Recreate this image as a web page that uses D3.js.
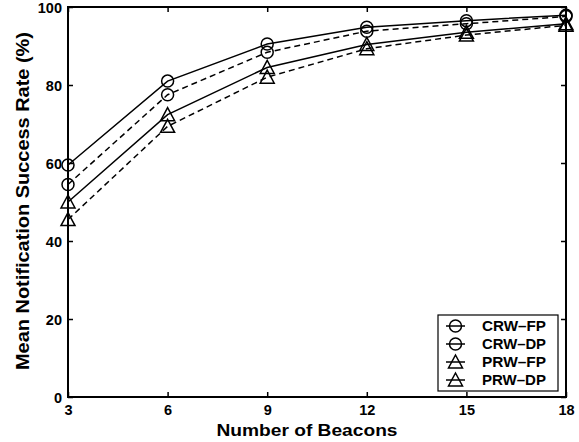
<!DOCTYPE html>
<html><head><meta charset="utf-8">
<script src="https://cdn.jsdelivr.net/npm/d3@7"></script>
<style>body{margin:0;background:#fff}text{font-family:"Liberation Sans",Arial,sans-serif;font-weight:bold}</style>
</head><body><svg id="c" width="579" height="442"></svg>
<script>
const beacons = [3, 6, 9, 12, 15, 18];
const crwFP = [59.5, 81.0, 90.5, 94.8, 96.5, 97.9];
const crwDP = [54.5, 77.5, 88.4, 93.8, 95.7, 97.6];
const prwFP = [50.0, 72.4, 84.5, 90.4, 93.5, 95.7];
const prwDP = [45.5, 69.4, 82.0, 89.3, 92.8, 95.3];
const yTicks = [0, 20, 40, 60, 80, 100];
const seriesNames = ["CRW\u2013FP", "CRW\u2013DP", "PRW\u2013FP", "PRW\u2013DP"];

const series = [
  {name: seriesNames[0], values: crwFP, marker: "circle", dash: null},
  {name: seriesNames[1], values: crwDP, marker: "circle", dash: "6,4"},
  {name: seriesNames[2], values: prwFP, marker: "triangle", dash: null},
  {name: seriesNames[3], values: prwDP, marker: "triangle", dash: "6,4"}
];

const svg = d3.select("#c");
const L = 68, R = 566, T = 7, B = 397;
const x = d3.scaleLinear().domain([3, 18]).range([L, R]);
const y = d3.scaleLinear().domain([0, 100]).range([B, T]);

function drawMarker(g, type, cx, cy) {
  if (type === "circle") {
    g.append("circle").attr("cx", cx).attr("cy", cy).attr("r", 6)
      .attr("fill", "none").attr("stroke", "#000").attr("stroke-width", 1.5);
  } else {
    g.append("path").attr("d", `M${cx},${cy-7}L${cx+7},${cy+6}L${cx-7},${cy+6}Z`)
      .attr("fill", "none").attr("stroke", "#000").attr("stroke-width", 1.5);
  }
}

// axes box
const gx = svg.append("g").attr("transform", `translate(0,${B})`)
  .call(d3.axisBottom(x).tickValues(beacons).tickSize(-5).tickPadding(8));
const gy = svg.append("g").attr("transform", `translate(${L},0)`)
  .call(d3.axisLeft(y).tickValues(yTicks).tickSize(-5).tickPadding(6));
const gxt = svg.append("g").attr("transform", `translate(0,${T})`)
  .call(d3.axisTop(x).tickValues(beacons).tickSize(-5).tickFormat(""));
const gyr = svg.append("g").attr("transform", `translate(${R},0)`)
  .call(d3.axisRight(y).tickValues(yTicks).tickSize(-5).tickFormat(""));
[gx, gy, gxt, gyr].forEach(g => {
  g.select(".domain").remove();
  g.attr("font-size", 14.5);
  g.selectAll("line").attr("stroke", "#000").attr("stroke-width", 1.5);
  g.selectAll("text").attr("font-size", 14.5).attr("fill", "#000")
   .style("font-family", '"Liberation Sans",Arial,sans-serif').style("font-weight", "bold");
});
gy.selectAll("text").attr("dy", "0.36em");
svg.append("rect").attr("x", L).attr("y", T).attr("width", R - L).attr("height", B - T)
  .attr("fill", "none").attr("stroke", "#000").attr("stroke-width", 2);

// lines
const line = d3.line().x((d, i) => x(beacons[i])).y(d => y(d));
series.forEach(s => {
  svg.append("path").attr("d", line(s.values)).attr("fill", "none")
    .attr("stroke", "#000").attr("stroke-width", 1.5)
    .attr("stroke-dasharray", s.dash);
  const g = svg.append("g");
  s.values.forEach((v, i) => drawMarker(g, s.marker, x(beacons[i]), y(v)));
});

// labels
svg.append("text").attr("x", (L + R) / 2 - 10).attr("y", 436).attr("text-anchor", "middle")
  .attr("font-size", 17).attr("textLength", 181).attr("lengthAdjust", "spacingAndGlyphs")
  .text("Number of Beacons");
svg.append("text").attr("transform", `translate(29,201) rotate(-90)`)
  .attr("text-anchor", "middle").attr("font-size", 17.5)
  .attr("textLength", 338).attr("lengthAdjust", "spacingAndGlyphs")
  .text("Mean Notification Success Rate (%)");

// legend
const lg = svg.append("g");
lg.append("rect").attr("x", 438).attr("y", 315).attr("width", 120).attr("height", 76)
  .attr("fill", "#fff").attr("stroke", "#000").attr("stroke-width", 1.2);
series.forEach((s, i) => {
  const ly = 326 + i * 18;
  lg.append("line").attr("x1", 446).attr("x2", 465).attr("y1", ly).attr("y2", ly)
    .attr("stroke", "#000").attr("stroke-width", 1.5);
  drawMarker(lg, s.marker, 455.5, ly);
  lg.append("text").attr("x", 482).attr("y", ly).attr("dy", "0.36em")
    .attr("font-size", 14).attr("textLength", 64).attr("lengthAdjust", "spacingAndGlyphs")
    .text(s.name);
});
</script></body></html>
